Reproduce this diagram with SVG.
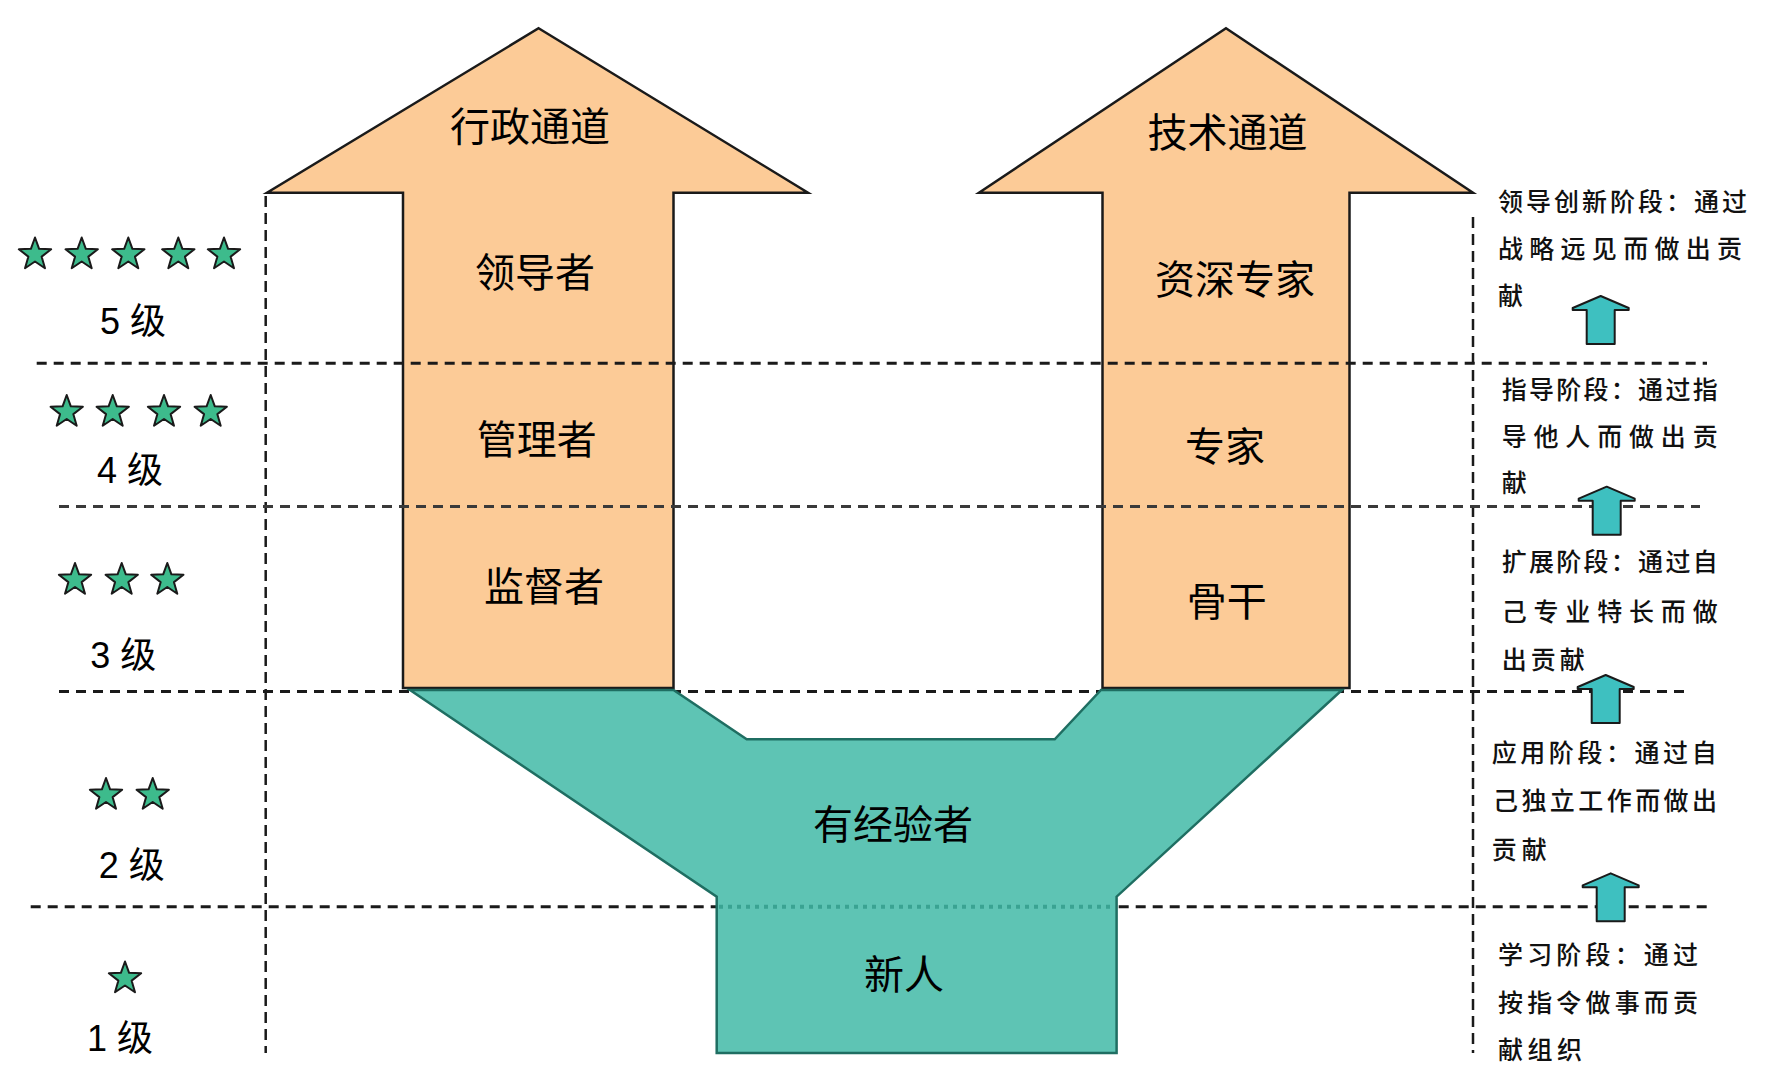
<svg xmlns="http://www.w3.org/2000/svg" width="1772" height="1066" viewBox="0 0 1772 1066">
<style>
.big{font-family:"Noto Sans CJK SC","Noto Sans",sans-serif;font-size:40px;fill:#000;text-anchor:middle;dominant-baseline:central}
.lvl{font-family:"Liberation Sans","Noto Sans CJK SC",sans-serif;font-size:36px;fill:#000;text-anchor:middle;dominant-baseline:central}
.side{font-family:"Noto Sans CJK SC","Noto Sans",sans-serif;font-size:25px;font-weight:500;fill:#111;dominant-baseline:central}
.orange{fill:#fccb97;stroke:#1a1a1a;stroke-width:2.5;stroke-linejoin:miter}
.teal{fill:#5ec4b4;stroke:#1f6e62;stroke-width:2.5;stroke-linejoin:miter}
.hd{stroke:#1a1a1a;stroke-width:3;stroke-dasharray:10 7;fill:none}
.hd2{stroke:#3a3a3a;stroke-width:3;stroke-dasharray:10 7;fill:none}
.vd{stroke:#1a1a1a;stroke-width:2.5;stroke-dasharray:11 6;fill:none}
.star{fill:#3dbb8c;stroke:#1a1a1a;stroke-width:2;stroke-linejoin:round}
.up{fill:#3ec0c0;stroke:#1a1a1a;stroke-width:2;stroke-linejoin:round}
</style>
<defs>
<path id="starShape" d="M0,-17 L4.11,-5.66 L16.17,-5.25 L6.66,2.16 L9.99,13.75 L0,7 L-9.99,13.75 L-6.66,2.16 L-16.17,-5.25 L-4.11,-5.66 Z"/>
<path id="upArrow" d="M0,0 L28,12 L28,14 L14,14 L14,48 L-14,48 L-14,14 L-28,14 L-28,12 Z"/>
</defs>
<rect width="1772" height="1066" fill="#fff"/>

<g id="admin-channel">
<polygon class="orange" points="538.6,28.3 808,192.7 673.5,192.7 673.5,688 403,688 403,192.7 267,192.7"/>
<text class="big" x="530" y="123.5">行政通道</text>
</g>
<g id="tech-channel">
<polygon class="orange" points="1226,28.3 1473,192.7 1349.5,192.7 1349.5,688 1102.5,688 1102.5,192.7 979,192.7"/>
<text class="big" x="1227.5" y="130">技术通道</text>
</g>

<g id="guides">
<line class="vd" x1="265.7" y1="196" x2="265.7" y2="1053"/>
<line class="vd" x1="1473" y1="217" x2="1473" y2="1053"/>
<line class="hd" x1="36.7" y1="363.3" x2="1707" y2="363.3"/>
<line class="hd2" x1="59" y1="506.5" x2="1700" y2="506.5"/>
<line class="hd" x1="59" y1="691.5" x2="1687" y2="691.5"/>
<line class="hd" x1="30.7" y1="906.7" x2="1707" y2="906.7"/>
</g>

<g id="experienced">
<polygon class="teal" points="410,690 673.5,690 746.7,739.3 1054.7,739.3 1101,690 1342,690 1116.6,896.7 1116.6,1053 716.7,1053 716.7,896.7"/>
<line x1="719" y1="906.7" x2="1115" y2="906.7" stroke="#3aa392" stroke-width="4" stroke-dasharray="4 5"/>
<text class="big" x="893" y="822">有经验者</text>
</g>
<g id="newcomer">
<text class="big" x="904" y="972">新人</text>
</g>

<g id="leader"><text class="big" x="535" y="270">领导者</text></g>
<g id="manager"><text class="big" x="536.7" y="437">管理者</text></g>
<g id="supervisor"><text class="big" x="544" y="583.5">监督者</text></g>
<g id="senior-expert"><text class="big" x="1235" y="277">资深专家</text></g>
<g id="expert"><text class="big" x="1225" y="444">专家</text></g>
<g id="backbone"><text class="big" x="1226.7" y="598.7">骨干</text></g>

<g id="level5">
<use href="#starShape" class="star" x="35" y="254.5"/>
<use href="#starShape" class="star" x="81.7" y="254.5"/>
<use href="#starShape" class="star" x="128.3" y="254.5"/>
<use href="#starShape" class="star" x="178.3" y="254.5"/>
<use href="#starShape" class="star" x="224" y="254.5"/>
<text class="lvl" x="133" y="321.7">5 级</text>
</g>
<g id="level4">
<use href="#starShape" class="star" x="66.7" y="412"/>
<use href="#starShape" class="star" x="112.7" y="412"/>
<use href="#starShape" class="star" x="164" y="412"/>
<use href="#starShape" class="star" x="210.7" y="412"/>
<text class="lvl" x="130" y="470">4 级</text>
</g>
<g id="level3">
<use href="#starShape" class="star" x="75" y="580"/>
<use href="#starShape" class="star" x="121.7" y="580"/>
<use href="#starShape" class="star" x="167.3" y="580"/>
<text class="lvl" x="123.3" y="655">3 级</text>
</g>
<g id="level2">
<use href="#starShape" class="star" x="106" y="795"/>
<use href="#starShape" class="star" x="152.7" y="795"/>
<text class="lvl" x="131.7" y="865">2 级</text>
</g>
<g id="level1">
<use href="#starShape" class="star" x="125" y="978.5"/>
<text class="lvl" x="120" y="1038">1 级</text>
</g>

<g id="stage-lead">
<text class="side" x="1498" y="200" textLength="249" lengthAdjust="spacing">领导创新阶段：通过</text>
<text class="side" x="1498" y="246.7" textLength="244" lengthAdjust="spacing">战略远见而做出贡</text>
<text class="side" x="1498" y="294">献</text>
</g>
<g id="stage-guide">
<text class="side" x="1501.7" y="387.5" textLength="216" lengthAdjust="spacing">指导阶段：通过指</text>
<text class="side" x="1501.7" y="434.5" textLength="216" lengthAdjust="spacing">导他人而做出贡</text>
<text class="side" x="1501.7" y="481">献</text>
</g>
<g id="stage-expand">
<text class="side" x="1501.7" y="560" textLength="216" lengthAdjust="spacing">扩展阶段：通过自</text>
<text class="side" x="1501.7" y="609.5" textLength="216" lengthAdjust="spacing">己专业特长而做</text>
<text class="side" x="1501.7" y="658" textLength="83" lengthAdjust="spacing">出贡献</text>
</g>
<g id="stage-apply">
<text class="side" x="1491.7" y="750.5" textLength="225" lengthAdjust="spacing">应用阶段：通过自</text>
<text class="side" x="1493" y="799" textLength="224" lengthAdjust="spacing">己独立工作而做出</text>
<text class="side" x="1491.7" y="847.5" textLength="55" lengthAdjust="spacing">贡献</text>
</g>
<g id="stage-learn">
<text class="side" x="1498" y="952.5" textLength="200" lengthAdjust="spacing">学习阶段：通过</text>
<text class="side" x="1498" y="1001" textLength="200" lengthAdjust="spacing">按指令做事而贡</text>
<text class="side" x="1498" y="1048" textLength="84" lengthAdjust="spacing">献组织</text>
</g>

<g id="connectors">
<use href="#upArrow" class="up" x="1600.7" y="296"/>
<use href="#upArrow" class="up" x="1606.7" y="486.7"/>
<use href="#upArrow" class="up" x="1605.7" y="675"/>
<use href="#upArrow" class="up" x="1610.7" y="873.3"/>
</g>
</svg>
